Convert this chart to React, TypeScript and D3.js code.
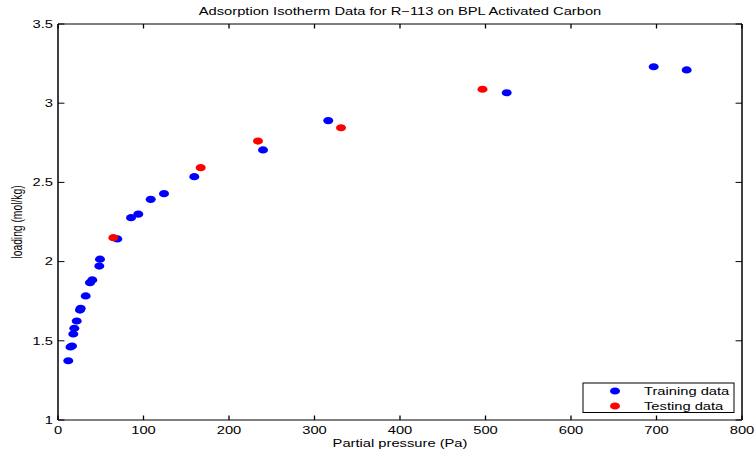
import React from "react";
import * as d3 from "d3";

const trainP = [12.0, 14.6, 16.4, 17.9, 19.1, 21.9, 25.7, 26.5, 32.4, 37.4, 40.1, 48.3, 49.1, 69.4, 85.4, 93.9, 108.4, 124.0, 159.4, 239.8, 316.1, 524.8, 696.7, 735.3];
const trainQ = [1.374, 1.461, 1.467, 1.543, 1.579, 1.625, 1.694, 1.705, 1.783, 1.867, 1.884, 1.972, 2.015, 2.143, 2.277, 2.3, 2.393, 2.429, 2.536, 2.705, 2.89, 3.066, 3.23, 3.21];
const testP = [64.7, 166.9, 233.9, 331.0, 496.5];
const testQ = [2.151, 2.593, 2.761, 2.845, 3.088];
const xTicks = [0, 100, 200, 300, 400, 500, 600, 700, 800];
const yTicks = [1, 1.5, 2, 2.5, 3, 3.5];
const legendLabels = ["Training data", "Testing data"];
const legendColors = ["#0000ff", "#ff0000"];

const SX = 1.43;
const FS = 10.3;
const FONT = "'Liberation Sans', Arial, Helvetica, sans-serif";

function T({ x, y, anchor = "start", rotate = 0, children }: any) {
  return (
    <text
      transform={`translate(${x},${y}) scale(${SX},1) rotate(${rotate})`}
      textAnchor={anchor}
      fontFamily={FONT}
      fontSize={FS}
      fill="#000"
    >
      {children}
    </text>
  );
}

export default function App() {
  const W = 755, H = 453;
  const L = 58, R = 742, TOP = 24, B = 420;
  const x = d3.scaleLinear().domain([0, 800]).range([L, R]);
  const y = d3.scaleLinear().domain([1, 3.5]).range([B, TOP]);
  const tl = 4.5;
  return (
    <svg width={W} height={H} style={{ position: "absolute", left: 0, top: 0, background: "#fff" }}>
      <rect x={0} y={0} width={W} height={H} fill="#fff" />
      {/* axes box */}
      <line x1={L} x2={R} y1={TOP} y2={TOP} stroke="#000" strokeWidth={1} />
      <line x1={L} x2={R} y1={B} y2={B} stroke="#000" strokeWidth={1} />
      <line x1={L} x2={L} y1={TOP} y2={B} stroke="#000" strokeWidth={1.5} />
      <line x1={R} x2={R} y1={TOP} y2={B} stroke="#000" strokeWidth={1.5} />
      {xTicks.map((t) => (
        <g key={"x" + t}>
          <line x1={x(t)} x2={x(t)} y1={B} y2={B - tl} stroke="#000" strokeWidth={1.3} />
          <line x1={x(t)} x2={x(t)} y1={TOP} y2={TOP + tl} stroke="#000" strokeWidth={1.3} />
          <T x={x(t)} y={434} anchor="middle">{String(t)}</T>
        </g>
      ))}
      {yTicks.map((t) => (
        <g key={"y" + t}>
          <line x1={L} x2={L + tl * SX} y1={y(t)} y2={y(t)} stroke="#000" strokeWidth={1} />
          <line x1={R} x2={R - tl * SX} y1={y(t)} y2={y(t)} stroke="#000" strokeWidth={1} />
          <T x={53} y={y(t) + 3.7} anchor="end">{String(t)}</T>
        </g>
      ))}
      {/* points */}
      {trainP.map((p, i) => (
        <ellipse key={"tr" + i} cx={x(p)} cy={y(trainQ[i])} rx={5} ry={3.6} fill="#0000ff" />
      ))}
      {testP.map((p, i) => (
        <ellipse key={"te" + i} cx={x(p)} cy={y(testQ[i])} rx={5} ry={3.6} fill="#ff0000" />
      ))}
      {/* title & labels */}
      <T x={(L + R) / 2} y={15} anchor="middle">Adsorption Isotherm Data for R−113 on BPL Activated Carbon</T>
      <T x={(L + R) / 2} y={447} anchor="middle">Partial pressure (Pa)</T>
      <T x={22} y={(TOP + B) / 2} anchor="middle" rotate={-90}>loading (mol/kg)</T>
      {/* legend */}
      <rect x={583} y={383} width={151} height={29.5} fill="#fff" stroke="#000" strokeWidth={1} />
      {legendLabels.map((lab, i) => (
        <g key={lab}>
          <ellipse cx={615} cy={391 + i * 15} rx={5} ry={3.6} fill={legendColors[i]} />
          <T x={644} y={394.5 + i * 15}>{lab}</T>
        </g>
      ))}
    </svg>
  );
}
